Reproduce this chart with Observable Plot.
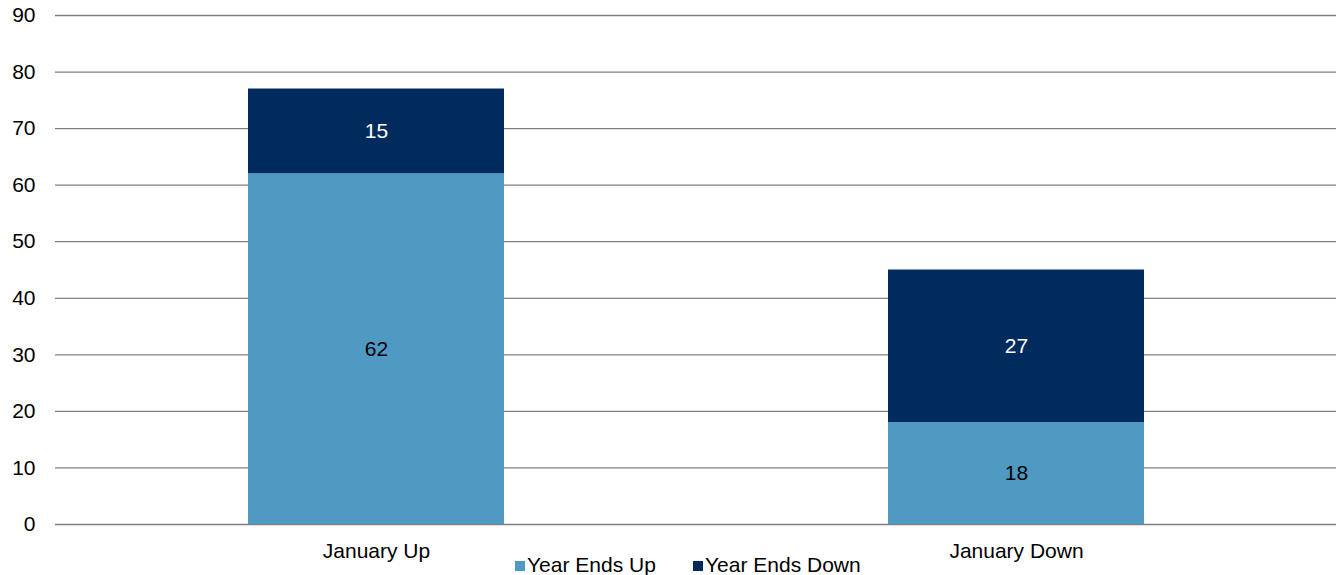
<!DOCTYPE html>
<html>
<head>
<meta charset="utf-8">
<script src="https://cdn.jsdelivr.net/npm/d3@7"></script>
<script src="https://cdn.jsdelivr.net/npm/@observablehq/plot@0.6"></script>
<style>
  html, body { margin: 0; padding: 0; background: #fff; }
  body { width: 1336px; height: 575px; overflow: hidden; font-family: "Liberation Sans", Arial, sans-serif; }
  #legend { position: relative; height: 25px; font-size: 21px; line-height: 23px; color: #000; }
  #legend .item { position: absolute; top: 3px; white-space: nowrap; }
  #legend .sw { display: inline-block; width: 10px; height: 10px; margin-right: 2px; vertical-align: 1px; }
</style>
</head>
<body>
<div id="chart"></div>
<div id="legend"></div>
<script>
const categories = ["January Up", "January Down"];
const seriesNames = ["Year Ends Up", "Year Ends Down"];
const yearEndsUp = [62, 18];
const yearEndsDown = [15, 27];
const yTicks = [0, 10, 20, 30, 40, 50, 60, 70, 80, 90];
const colors = ["#4F9AC2", "#002B5C"];
const labelColors = ["#000000", "#FFFFFF"];

const data = [];
categories.forEach((c, i) => {
  data.push({category: c, series: seriesNames[0], value: yearEndsUp[i]});
  data.push({category: c, series: seriesNames[1], value: yearEndsDown[i]});
});

const chart = Plot.plot({
  width: 1336,
  height: 550,
  marginTop: 15,
  marginBottom: 26,
  marginLeft: 55,
  marginRight: 0,
  style: {fontFamily: "'Liberation Sans', Arial, sans-serif", fontSize: "21px", color: "#000", background: "#fff", overflow: "visible"},
  x: {domain: categories, paddingInner: 0.6, paddingOuter: 0.3, label: null},
  y: {domain: [0, 90], ticks: yTicks, label: null},
  color: {domain: seriesNames, range: colors},
  marks: [
    Plot.gridY(yTicks, {stroke: "#808080", strokeOpacity: 1, strokeWidth: 1.3}),
    Plot.barY(data, {x: "category", y: "value", fill: "series", order: seriesNames}),
    Plot.text(data, Plot.stackY({x: "category", y: "value", z: "series", order: seriesNames, text: d => String(d.value), fill: d => labelColors[seriesNames.indexOf(d.series)], fontSize: 21})),
    Plot.axisY(yTicks, {tickSize: 0, tickPadding: 20, fontSize: 21, label: null}),
    Plot.axisX({tickSize: 0, tickPadding: 19, fontSize: 21, label: null})
  ]
});
document.getElementById("chart").appendChild(chart);

const legend = document.getElementById("legend");
const positions = [515, 693];
seriesNames.forEach((s, i) => {
  const item = document.createElement("span");
  item.className = "item";
  item.style.left = positions[i] + "px";
  const sw = document.createElement("span");
  sw.className = "sw";
  sw.style.background = colors[i];
  item.appendChild(sw);
  item.appendChild(document.createTextNode(s));
  legend.appendChild(item);
});
</script>
</body>
</html>
